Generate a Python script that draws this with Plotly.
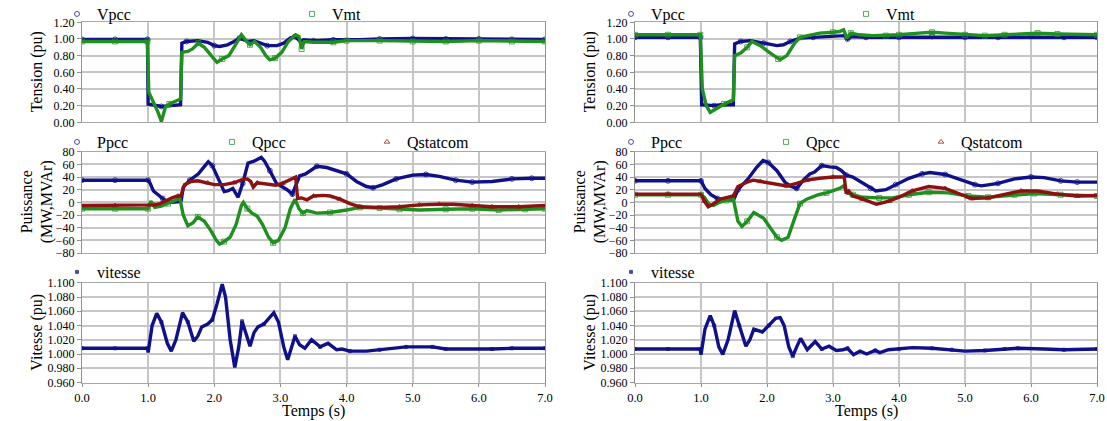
import numpy as np
import plotly.graph_objects as go

# ---------------- data ----------------
# Left column
t_vpcc_L = [0, 0.5, 0.99, 1.0, 1.05, 1.2, 1.35, 1.49, 1.5, 1.51, 1.58, 1.75, 1.9, 2.0, 2.08, 2.2, 2.3, 2.38, 2.45, 2.5, 2.6, 2.7, 2.8, 2.95, 3.05, 3.15, 3.22, 3.3, 3.35, 3.5, 3.8, 4.2, 4.5, 5.0, 5.5, 6.0, 6.5, 7.0]
v_vpcc_L = [0.995, 0.995, 0.995, 0.22, 0.21, 0.19, 0.20, 0.21, 0.60, 0.95, 0.97, 0.98, 0.96, 0.92, 0.91, 0.93, 0.97, 1.01, 0.99, 0.97, 0.98, 0.95, 0.92, 0.92, 0.95, 1.01, 1.03, 0.97, 0.99, 0.98, 0.99, 0.99, 1.00, 1.005, 1.0, 1.0, 0.995, 0.995]

t_vmt_L = [0, 0.5, 0.99, 1.01, 1.08, 1.15, 1.2, 1.26, 1.32, 1.4, 1.49, 1.51, 1.6, 1.67, 1.76, 1.85, 1.95, 2.04, 2.12, 2.22, 2.32, 2.41, 2.48, 2.54, 2.61, 2.7, 2.78, 2.84, 2.92, 3.02, 3.12, 3.23, 3.28, 3.32, 3.36, 3.5, 3.8, 4.0, 4.5, 5.0, 5.5, 6.0, 6.5, 7.0]
v_vmt_L = [0.97, 0.97, 0.97, 0.36, 0.25, 0.12, 0.01, 0.18, 0.22, 0.25, 0.28, 0.84, 0.85, 0.88, 0.95, 0.90, 0.80, 0.72, 0.76, 0.80, 0.93, 1.05, 0.98, 0.93, 0.97, 0.90, 0.80, 0.75, 0.77, 0.84, 0.97, 1.05, 1.03, 0.88, 0.97, 0.96, 0.96, 0.98, 0.98, 0.97, 0.97, 0.98, 0.97, 0.97]

t_ppcc_L = [0, 0.5, 1.0, 1.03, 1.08, 1.15, 1.22, 1.28, 1.35, 1.45, 1.5, 1.53, 1.63, 1.76, 1.86, 1.91, 1.97, 2.07, 2.15, 2.2, 2.28, 2.36, 2.43, 2.51, 2.6, 2.71, 2.76, 2.84, 2.94, 3.02, 3.1, 3.18, 3.24, 3.29, 3.38, 3.47, 3.55, 3.7, 3.8, 4.0, 4.15, 4.3, 4.4, 4.55, 4.75, 5.0, 5.2, 5.4, 5.65, 5.9, 6.2, 6.5, 6.8, 7.0]
v_ppcc_L = [35, 35, 35, 30, 18, 12, 6, 1, 0, 1, 3, 24, 35, 45, 58, 64, 58, 35, 17, 18, 22, 8, 30, 62, 65, 71, 65, 50, 30, 25, 20, 13, 30, 42, 45, 52, 57, 55, 52, 45, 33, 25, 23, 28, 37, 43, 44, 41, 35, 32, 33, 37, 38, 38]

t_qpcc_L = [0, 0.5, 1.0, 1.04, 1.1, 1.2, 1.3, 1.4, 1.48, 1.53, 1.6, 1.68, 1.75, 1.85, 1.95, 2.03, 2.08, 2.15, 2.24, 2.33, 2.41, 2.44, 2.5, 2.57, 2.65, 2.73, 2.82, 2.89, 2.97, 3.07, 3.15, 3.22, 3.28, 3.34, 3.4, 3.55, 3.75, 4.0, 4.2, 4.5, 4.8, 5.1, 5.5, 5.9, 6.3, 6.7, 7.0]
v_qpcc_L = [-10, -10, -10, 2, -8, -6, -2, 3, 6, -20, -37, -32, -23, -30, -45, -60, -66, -62, -55, -35, -5, 0, -10, -17, -22, -35, -55, -64, -60, -40, -10, 5, -10, -17, -13, -17, -16, -12, -8, -9, -11, -12, -11, -10, -12, -11, -10]

t_qst_L = [0, 0.5, 1.0, 1.1, 1.18, 1.28, 1.36, 1.45, 1.5, 1.55, 1.65, 1.75, 1.9, 2.0, 2.15, 2.3, 2.42, 2.5, 2.55, 2.59, 2.65, 2.75, 2.85, 2.93, 3.03, 3.12, 3.2, 3.23, 3.26, 3.32, 3.4, 3.5, 3.65, 3.75, 3.9, 4.05, 4.2, 4.5, 4.8, 5.1, 5.4, 5.6, 5.9, 6.2, 6.6, 7.0]
v_qst_L = [-5, -5, -5, -4, -2, 3, 7, 10, 11, 28, 33, 34, 31, 28, 28, 31, 36, 37, 33, 24, 31, 30, 28, 27, 30, 34, 39, 40, 6, 7, 4, 10, 11, 10, 5, -2, -7, -8, -7, -4, -3, -3, -5, -7, -7, -5]

t_vit_L = [0, 0.5, 0.99, 1.0, 1.06, 1.13, 1.2, 1.29, 1.35, 1.42, 1.52, 1.6, 1.69, 1.75, 1.81, 1.9, 1.97, 2.04, 2.12, 2.17, 2.24, 2.31, 2.37, 2.42, 2.48, 2.54, 2.6, 2.66, 2.75, 2.9, 2.97, 3.05, 3.11, 3.17, 3.22, 3.29, 3.37, 3.47, 3.6, 3.72, 3.85, 3.93, 4.05, 4.3, 4.5, 4.7, 4.9, 5.3, 5.5, 6.2, 6.5, 7.0]
v_vit_L = [1.008, 1.008, 1.008, 1.002, 1.040, 1.057, 1.045, 1.015, 1.004, 1.020, 1.058, 1.045, 1.018, 1.025, 1.038, 1.042, 1.048, 1.070, 1.098, 1.080, 1.020, 0.981, 1.010, 1.046, 1.030, 1.011, 1.030, 1.038, 1.042, 1.058, 1.045, 1.010, 0.992, 1.010, 1.025, 1.013, 1.008, 1.020, 1.010, 1.015, 1.006, 1.007, 1.004, 1.004, 1.006, 1.008, 1.010, 1.010, 1.007, 1.007, 1.008, 1.008]

# Right column
t_vpcc_R = [0, 0.5, 0.99, 1.01, 1.2, 1.3, 1.49, 1.51, 1.6, 1.75, 1.95, 2.15, 2.25, 2.35, 2.5, 2.7, 3.0, 3.17, 3.22, 3.28, 3.5, 4.0, 4.5, 5.0, 5.5, 6.0, 6.5, 7.0]
v_vpcc_R = [1.02, 1.02, 1.02, 0.21, 0.20, 0.21, 0.21, 0.94, 0.97, 0.98, 0.95, 0.92, 0.93, 0.97, 1.01, 1.02, 1.03, 1.04, 1.00, 1.03, 1.02, 1.02, 1.03, 1.02, 1.02, 1.03, 1.02, 1.02]

t_vmt_R = [0, 0.5, 0.99, 1.02, 1.08, 1.14, 1.25, 1.35, 1.49, 1.51, 1.6, 1.7, 1.77, 1.9, 2.05, 2.17, 2.2, 2.3, 2.42, 2.5, 2.62, 2.8, 3.0, 3.1, 3.16, 3.21, 3.27, 3.4, 3.6, 3.8, 4.0, 4.3, 4.5, 4.7, 5.0, 5.3, 5.6, 5.9, 6.1, 6.4, 7.0]
v_vmt_R = [1.05, 1.05, 1.05, 0.40, 0.20, 0.12, 0.17, 0.22, 0.27, 0.80, 0.83, 0.90, 0.97, 0.92, 0.83, 0.76, 0.75, 0.80, 0.95, 1.02, 1.04, 1.07, 1.08, 1.09, 1.11, 1.01, 1.07, 1.05, 1.04, 1.04, 1.05, 1.07, 1.08, 1.07, 1.05, 1.04, 1.05, 1.06, 1.07, 1.06, 1.05]

t_ppcc_R = [0, 0.5, 1.0, 1.06, 1.15, 1.25, 1.35, 1.49, 1.56, 1.72, 1.84, 1.94, 2.02, 2.15, 2.27, 2.35, 2.45, 2.55, 2.65, 2.72, 2.83, 2.95, 3.05, 3.13, 3.2, 3.3, 3.45, 3.57, 3.65, 3.8, 3.95, 4.15, 4.35, 4.47, 4.7, 4.95, 5.15, 5.25, 5.5, 5.75, 6.0, 6.2, 6.45, 6.7, 7.0]
v_ppcc_R = [34, 34, 34, 22, 12, 6, 4, 3, 20, 38, 55, 66, 63, 50, 32, 26, 22, 35, 45, 48, 58, 56, 55, 50, 43, 40, 30, 22, 18, 20, 28, 38, 45, 47, 44, 35, 28, 26, 30, 37, 40, 39, 34, 32, 32]

t_qpcc_R = [0, 0.5, 1.0, 1.05, 1.12, 1.19, 1.28, 1.38, 1.49, 1.56, 1.62, 1.7, 1.8, 1.95, 2.05, 2.15, 2.22, 2.32, 2.42, 2.5, 2.6, 2.78, 2.9, 3.0, 3.1, 3.16, 3.22, 3.3, 3.45, 3.7, 3.9, 4.15, 4.45, 4.75, 5.05, 5.35, 5.75, 6.05, 6.45, 7.0]
v_qpcc_R = [12, 12, 12, 8, -3, -5, 0, 3, 5, -30, -38, -30, -16, -25, -40, -55, -60, -55, -25, -2, 5, 12, 15, 18, 22, 26, 15, 12, 8, 7, 7, 12, 16, 15, 10, 8, 12, 14, 12, 10]

t_qst_R = [0, 0.5, 1.0, 1.05, 1.11, 1.18, 1.29, 1.4, 1.49, 1.56, 1.7, 1.79, 1.9, 2.1, 2.3, 2.45, 2.6, 2.8, 3.0, 3.17, 3.2, 3.24, 3.3, 3.45, 3.58, 3.66, 3.85, 4.0, 4.2, 4.45, 4.7, 4.95, 5.1, 5.35, 5.65, 5.85, 6.1, 6.4, 6.7, 7.0]
v_qst_R = [13, 13, 13, 2, -7, -3, 5, 8, 10, 25, 32, 35, 33, 30, 26, 30, 35, 38, 40, 40, 14, 18, 10, 5, 0, -3, 2, 8, 18, 25, 22, 12, 6, 7, 13, 18, 18, 13, 10, 11]

t_vit_R = [0, 0.5, 0.99, 1.0, 1.06, 1.14, 1.2, 1.27, 1.33, 1.41, 1.51, 1.58, 1.68, 1.74, 1.8, 1.93, 2.03, 2.13, 2.2, 2.26, 2.33, 2.39, 2.45, 2.51, 2.61, 2.73, 2.83, 2.94, 3.05, 3.15, 3.22, 3.31, 3.41, 3.51, 3.64, 3.71, 3.84, 4.0, 4.2, 4.5, 4.8, 5.0, 5.3, 5.6, 5.8, 6.2, 6.5, 7.0]
v_vit_R = [1.007, 1.007, 1.007, 0.999, 1.035, 1.054, 1.040, 1.010, 0.9995, 1.020, 1.061, 1.040, 1.011, 1.020, 1.035, 1.031, 1.040, 1.050, 1.051, 1.040, 1.010, 0.997, 1.010, 1.022, 1.006, 1.0175, 1.007, 1.011, 1.005, 1.006, 1.008, 0.999, 1.004, 1.000, 1.005, 1.002, 1.006, 1.007, 1.009, 1.008, 1.006, 1.004, 1.005, 1.007, 1.008, 1.007, 1.006, 1.007]

x_ticks = [0, 1, 2, 3, 4, 5, 6, 7]
x_title = "Temps (s)"
y_titles = ["Tension (pu)", "Puissance<br>(MW,MVAr)", "Vitesse (pu)"]

# ---------------- styling ----------------
W, H = 1107, 421
BLUE, GREEN, RED = "#10108a", "#1f901f", "#8c1212"
FONT = "Liberation Serif, Times New Roman, Tinos, DejaVu Serif, serif"
GRID = "#c6c6c6"


def px(x):  # screen x -> paper fraction
    return x / W


def py(y):  # screen y -> paper fraction
    return 1 - y / H


XD = {"L": [px(82), px(545)], "R": [px(635), px(1097)]}
YD = {1: [py(122.3), py(22.3)], 2: [py(253), py(151.7)], 3: [py(382.5), py(282.8)]}
YR = {1: ([0, 1.2], 0.2, ".2f"), 2: ([-80, 80], 20, "d"), 3: ([0.96, 1.1], 0.02, ".3f")}

fig = go.Figure()
layout = dict(width=W, height=H, margin=dict(l=0, r=0, t=0, b=0, autoexpand=False),
              paper_bgcolor="white", plot_bgcolor="white",
              font=dict(family=FONT, size=12, color="black"), annotations=[])

panels = []
idx = 0
for col in ["L", "R"]:
    for row in [1, 2, 3]:
        idx += 1
        panels.append((idx, col, row))
        xa = "xaxis" if idx == 1 else f"xaxis{idx}"
        ya = "yaxis" if idx == 1 else f"yaxis{idx}"
        yr, dt, fmt = YR[row]
        layout[xa] = dict(domain=XD[col], anchor=f"y{'' if idx == 1 else idx}", range=[0, 7],
                          tickvals=x_ticks, tickformat=".1f", showticklabels=(row == 3),
                          showgrid=True, gridcolor=GRID, gridwidth=1.5, zeroline=False,
                          showline=True, linecolor="#a8a8a8", linewidth=1, mirror=True,
                          ticks="outside" if row == 3 else "", ticklen=3, tickcolor="#909090",
                          tickfont=dict(size=12.5, family=FONT), automargin=False)
        layout[ya] = dict(domain=YD[row], anchor=f"x{'' if idx == 1 else idx}", range=yr,
                          dtick=dt, tick0=yr[0], tickformat=fmt,
                          showgrid=True, gridcolor=GRID, gridwidth=1.5, zeroline=False,
                          showline=True, linecolor="#909090", linewidth=1, mirror=True,
                          ticks="outside", ticklen=4, tickcolor="#909090",
                          tickfont=dict(size=12, family=FONT), automargin=False)
        tx = 37 if col == "L" else 590
        layout["annotations"].append(dict(
            text=y_titles[row - 1], textangle=-90, x=px(tx), y=sum(YD[row]) / 2,
            xref="paper", yref="paper", showarrow=False, xanchor="center", yanchor="middle",
            font=dict(size=16, family=FONT)))
        if row == 3:
            layout["annotations"].append(dict(
                text=x_title, x=sum(XD[col]) / 2, y=py(411), xref="paper", yref="paper",
                showarrow=False, xanchor="center", yanchor="middle", font=dict(size=16, family=FONT)))

series = {
    ("L", 1): [("Vpcc", t_vpcc_L, v_vpcc_L, BLUE, "circle-open"), ("Vmt", t_vmt_L, v_vmt_L, GREEN, "square-open")],
    ("L", 2): [("Ppcc", t_ppcc_L, v_ppcc_L, BLUE, "circle-open"), ("Qpcc", t_qpcc_L, v_qpcc_L, GREEN, "square-open"),
               ("Qstatcom", t_qst_L, v_qst_L, RED, "triangle-up-open")],
    ("L", 3): [("vitesse", t_vit_L, v_vit_L, BLUE, "square")],
    ("R", 1): [("Vpcc", t_vpcc_R, v_vpcc_R, BLUE, "circle-open"), ("Vmt", t_vmt_R, v_vmt_R, GREEN, "square-open")],
    ("R", 2): [("Ppcc", t_ppcc_R, v_ppcc_R, BLUE, "circle-open"), ("Qpcc", t_qpcc_R, v_qpcc_R, GREEN, "square-open"),
               ("Qstatcom", t_qst_R, v_qst_R, RED, "triangle-up-open")],
    ("R", 3): [("vitesse", t_vit_R, v_vit_R, BLUE, "square")],
}

legend_y = {1: 14, 2: 142, 3: 272}
entry_w = {1: 190, 2: 110, 3: 100}

for (idx, col, row) in panels:
    xr = "x" if idx == 1 else f"x{idx}"
    yr_ = "y" if idx == 1 else f"y{idx}"
    lg = "legend" if idx == 1 else f"legend{idx}"
    x0 = (57 if col == "L" else 611)
    layout[lg] = dict(x=px(x0), y=py(legend_y[row]), xanchor="left", yanchor="middle",
                      orientation="h", bgcolor="rgba(0,0,0,0)", font=dict(size=16, family=FONT),
                      entrywidth=entry_w[row], entrywidthmode="pixels", itemwidth=30,
                      tracegroupgap=0)
    for k, (name, t, v, color, sym) in enumerate(series[(col, row)]):
        t = np.asarray(t, float)
        v = np.asarray(v, float)
        assert len(t) == len(v), name
        fig.add_trace(go.Scatter(x=t, y=v, mode="lines", line=dict(color=color, width=3.4),
                                 xaxis=xr, yaxis=yr_, showlegend=False, hoverinfo="skip"))
        grid = np.arange(0.0 + 0.13 * k, 7.01, 0.4)
        mi = sorted(set(int(np.argmin(np.abs(t - g))) for g in grid))
        msize = 3 if sym == "square" else 5
        fig.add_trace(go.Scatter(x=t[mi], y=v[mi], mode="markers", name=name,
                                 marker=dict(symbol=sym, size=msize, color=color,
                                             line=dict(width=1, color=color), opacity=0.75),
                                 xaxis=xr, yaxis=yr_, legend=lg, showlegend=True))

fig.update_layout(**layout)
# remove the browser's default 8px page margin so the figure fills the window exactly
fig.write_html("out.html",
               config={"displayModeBar": False},
               post_script="document.body.style.margin='0';document.body.style.padding='0';"
                           "document.body.style.overflow='hidden';")
